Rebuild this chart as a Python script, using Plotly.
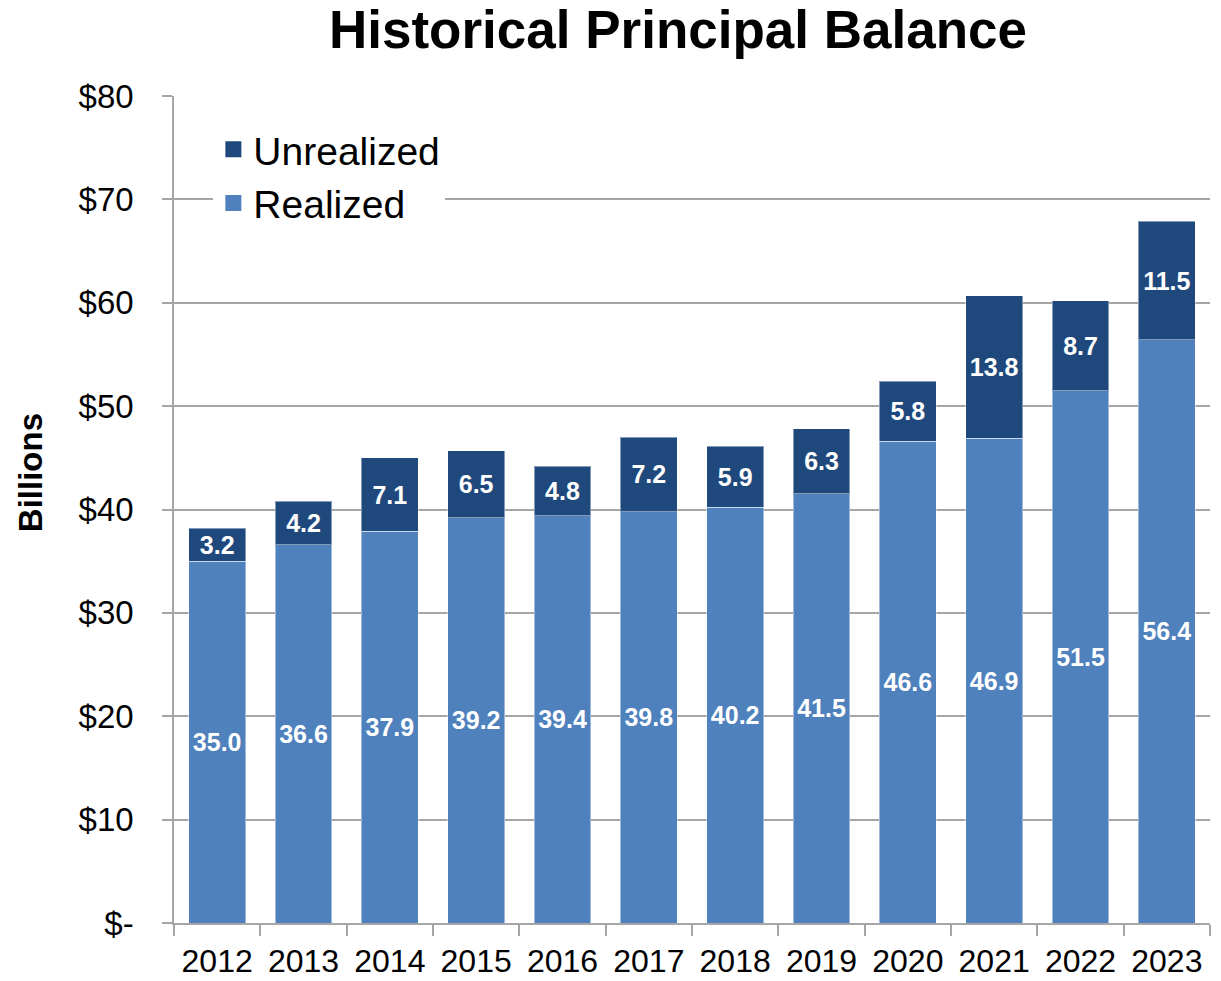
import plotly.graph_objects as go

# Principal balance by year, in billions of dollars
years = ["2012", "2013", "2014", "2015", "2016", "2017",
         "2018", "2019", "2020", "2021", "2022", "2023"]
realized = [35.0, 36.6, 37.9, 39.2, 39.4, 39.8, 40.2, 41.5, 46.6, 46.9, 51.5, 56.4]
unrealized = [3.2, 4.2, 7.1, 6.5, 4.8, 7.2, 5.9, 6.3, 5.8, 13.8, 8.7, 11.5]

y_tick_vals = [0, 10, 20, 30, 40, 50, 60, 70, 80]
y_tick_text = ["$-", "$10", "$20", "$30", "$40", "$50", "$60", "$70", "$80"]

FONT = "Arial, 'Liberation Sans', sans-serif"
REALIZED_COLOR = "#4F81BD"
UNREALIZED_COLOR = "#1F497D"
GRID = "#A6A6A6"

label_font = dict(family=FONT, size=25, color="white", weight="bold")

fig = go.Figure()
fig.add_trace(go.Bar(
    x=years, y=realized, name="Realized",
    marker=dict(color=REALIZED_COLOR, line=dict(color="rgba(255,255,255,0.45)", width=1)),
    text=[f"{v:.1f}" for v in realized], textposition="inside",
    insidetextanchor="middle", textangle=0, constraintext="none",
    textfont=label_font, showlegend=False, hoverinfo="x+y",
))
fig.add_trace(go.Bar(
    x=years, y=unrealized, name="Unrealized",
    marker=dict(color=UNREALIZED_COLOR, line=dict(color="rgba(255,255,255,0.45)", width=1)),
    text=[f"{v:.1f}" for v in unrealized], textposition="inside",
    insidetextanchor="middle", textangle=0, constraintext="none",
    textfont=label_font, showlegend=False, hoverinfo="x+y",
))

# Legend entries with larger square swatches
for name, color in [("Unrealized", UNREALIZED_COLOR), ("Realized", REALIZED_COLOR)]:
    fig.add_trace(go.Scatter(
        x=[None], y=[None], mode="markers", name=name, legendgroup=name,
        marker=dict(symbol="square", size=20, color=color),
    ))

fig.update_layout(
    width=1221, height=981,
    barmode="stack", bargap=0.34,
    paper_bgcolor="white", plot_bgcolor="white",
    margin=dict(l=174, r=11, t=96, b=58, autoexpand=False),
    font=dict(family=FONT, color="black"),
    title=dict(
        text="<b>Historical Principal Balance</b>",
        font=dict(family=FONT, size=53, color="black"),
        x=678 / 1221, xanchor="center", xref="container",
        y=1 - 29 / 981, yanchor="middle", yref="container",
    ),
    legend=dict(
        x=0.038, xanchor="left", y=0.974, yanchor="top",
        bgcolor="white", borderwidth=0,
        font=dict(family=FONT, size=39, color="black"),
        itemsizing="trace", traceorder="normal", tracegroupgap=17,
    ),
    showlegend=True,
)

fig.update_xaxes(
    type="category",
    showline=True, linecolor=GRID, linewidth=1.5,
    ticks="outside", tickson="boundaries", ticklen=11, tickwidth=1.5, tickcolor=GRID,
    tickfont=dict(family=FONT, size=32, color="black"),
    ticklabelstandoff=9,
    showgrid=False,
)
fig.update_yaxes(
    range=[0, 80],
    tickvals=y_tick_vals, ticktext=y_tick_text,
    showline=True, linecolor=GRID, linewidth=1.5,
    ticks="outside", ticklen=10, tickwidth=1.5, tickcolor=GRID,
    tickfont=dict(family=FONT, size=33, color="black"),
    ticklabelstandoff=22,
    showgrid=True, gridcolor=GRID, gridwidth=1.5,
    zeroline=False,
)

fig.add_annotation(
    text="<b>Billions</b>", textangle=-90,
    xref="paper", yref="paper",
    x=(30 - 174) / 1036, y=(922.7 - 473) / 826.7,
    xanchor="center", yanchor="middle", showarrow=False,
    font=dict(family=FONT, size=33, color="black"),
)

fig.write_html("out.html")
